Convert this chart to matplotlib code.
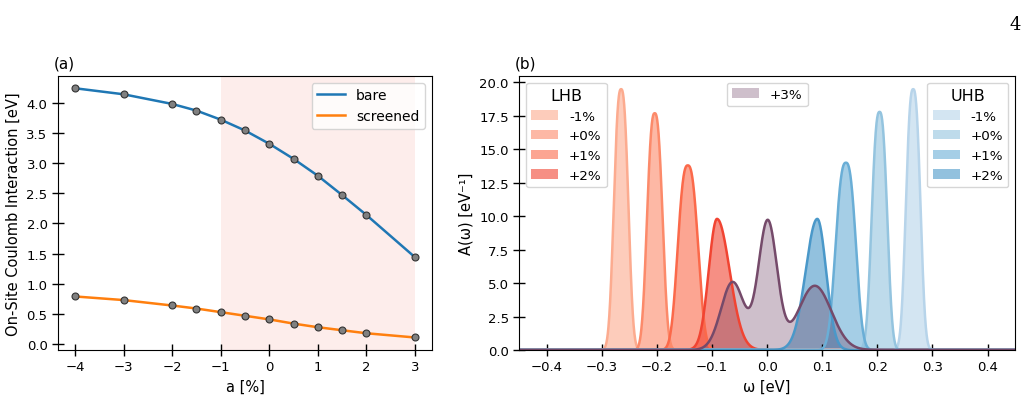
import numpy as np
import matplotlib
matplotlib.use('Agg')
from matplotlib import pyplot as plt

# ---- panel (a): on-site Coulomb interaction vs strain ----
strain = [-4, -3, -2, -1.5, -1, -0.5, 0, 0.5, 1, 1.5, 2, 3]
u_bare = [4.24, 4.14, 3.98, 3.87, 3.72, 3.54, 3.32, 3.07, 2.79, 2.47, 2.14, 1.44]
u_screened = [0.79, 0.73, 0.64, 0.59, 0.53, 0.47, 0.41, 0.34, 0.28, 0.23, 0.18, 0.11]

# ---- panel (b): Hubbard band peaks (center, height, left/right width, shape exponent) ----
band_labels = ["-1%", "+0%", "+1%", "+2%"]
lhb_center = [-0.265, -0.204, -0.144, -0.091]
lhb_height = [19.5, 17.7, 13.8, 9.8]
lhb_sig_left = [0.0125, 0.0132, 0.0172, 0.0150]
lhb_sig_right = [0.0125, 0.0135, 0.0178, 0.0230]
uhb_center = [0.265, 0.204, 0.143, 0.091]
uhb_height = [19.5, 17.8, 14.0, 9.8]
uhb_sig_left = [0.0125, 0.0135, 0.0178, 0.0210]
uhb_sig_right = [0.0125, 0.0132, 0.0172, 0.0160]
band_shape = [2.6, 2.6, 2.6, 2.0]
# +3% : three overlapping peaks
p3_center = [-0.0626, 0.001, 0.0865]
p3_height = [5.08, 9.6, 4.8]
p3_sigma = [0.021, 0.0169, 0.030]

shade = [0.3, 0.4, 0.5, 0.6]


def peak(w, c, h, sl, sr, p=2.0):
    s = np.where(w < c, sl, sr)
    return h * np.exp(-0.5 * np.abs((w - c) / s) ** p)


plt.rcParams['font.size'] = 10

fig = plt.figure(figsize=(10.26, 4.02), dpi=100)
ax1 = fig.add_axes([0.0565, 0.127, 0.3645, 0.682])
ax2 = fig.add_axes([0.506, 0.127, 0.4834, 0.682])

######## (a) ########
ax1.axvspan(-1, 3, color='#fdedeb', lw=0, zorder=0)
ax1.plot(strain, u_bare, color='tab:blue', lw=1.8, label='bare')
ax1.plot(strain, u_screened, color='tab:orange', lw=1.8, label='screened')
ax1.plot(strain, u_bare, 'o', color='grey', mec='#333333', mew=0.8, ms=5, zorder=3)
ax1.plot(strain, u_screened, 'o', color='grey', mec='#333333', mew=0.8, ms=5, zorder=3)
ax1.set_xticks(range(-4, 4))
ax1.set_yticks(np.arange(0, 4.01, 0.5))
ax1.set_xlabel('a [%]', fontsize=10.5)
ax1.set_ylabel('On-Site Coulomb Interaction [eV]', fontsize=10.5)
ax1.legend(loc='upper right', fontsize=10)

######## (b) ########
w = np.linspace(-0.45, 0.45, 3000)
reds = plt.get_cmap('Reds')
blues = plt.get_cmap('Blues')

lhb_handles = []
for i in range(4):
    a = peak(w, lhb_center[i], lhb_height[i], lhb_sig_left[i], lhb_sig_right[i], band_shape[i])
    col = reds(shade[i])
    h = ax2.fill_between(w, a, color=col, alpha=0.6, lw=0, label=band_labels[i])
    ax2.plot(w, a, color=col, lw=1.8)
    lhb_handles.append(h)

uhb_handles = []
for i in range(4):
    a = peak(w, uhb_center[i], uhb_height[i], uhb_sig_left[i], uhb_sig_right[i], band_shape[i])
    col = blues(shade[i])
    h = ax2.fill_between(w, a, color=col, alpha=0.6, lw=0, label=band_labels[i])
    ax2.plot(w, a, color=col, lw=1.8)
    uhb_handles.append(h)

a3 = sum(peak(w, p3_center[k], p3_height[k], p3_sigma[k], p3_sigma[k]) for k in range(3))
h3 = ax2.fill_between(w, a3, color='#754a6a', alpha=0.35, lw=0, label='+3%')
ax2.plot(w, a3, color='#754a6a', lw=1.8)

ax2.set_xlim(-0.45, 0.45)
ax2.set_ylim(0, 20.5)
ax2.set_yticks(np.arange(0, 20.1, 2.5))
ax2.set_xlabel('ω [eV]', fontsize=10.5)
ax2.set_ylabel('A(ω) [eV⁻¹]', fontsize=10.5)

leg1 = ax2.legend(handles=lhb_handles, title='LHB', loc='upper left',
                  fontsize=9.7, title_fontsize=11.5)
ax2.add_artist(leg1)
leg2 = ax2.legend(handles=uhb_handles, title='UHB', loc='upper right',
                  fontsize=9.7, title_fontsize=11.5)
ax2.add_artist(leg2)
ax2.legend(handles=[h3], loc='upper center', fontsize=9.7)

for ax in (ax1, ax2):
    ax.tick_params(direction='inout', length=8, width=1, labelsize=9.5)

fig.text(0.052, 0.83, '(a)', fontsize=11)
fig.text(0.502, 0.83, '(b)', fontsize=11)
fig.text(0.984, 0.96, '4', fontsize=13, family='DejaVu Serif', ha='left', va='top')

plt.savefig('out.png', dpi=100)
